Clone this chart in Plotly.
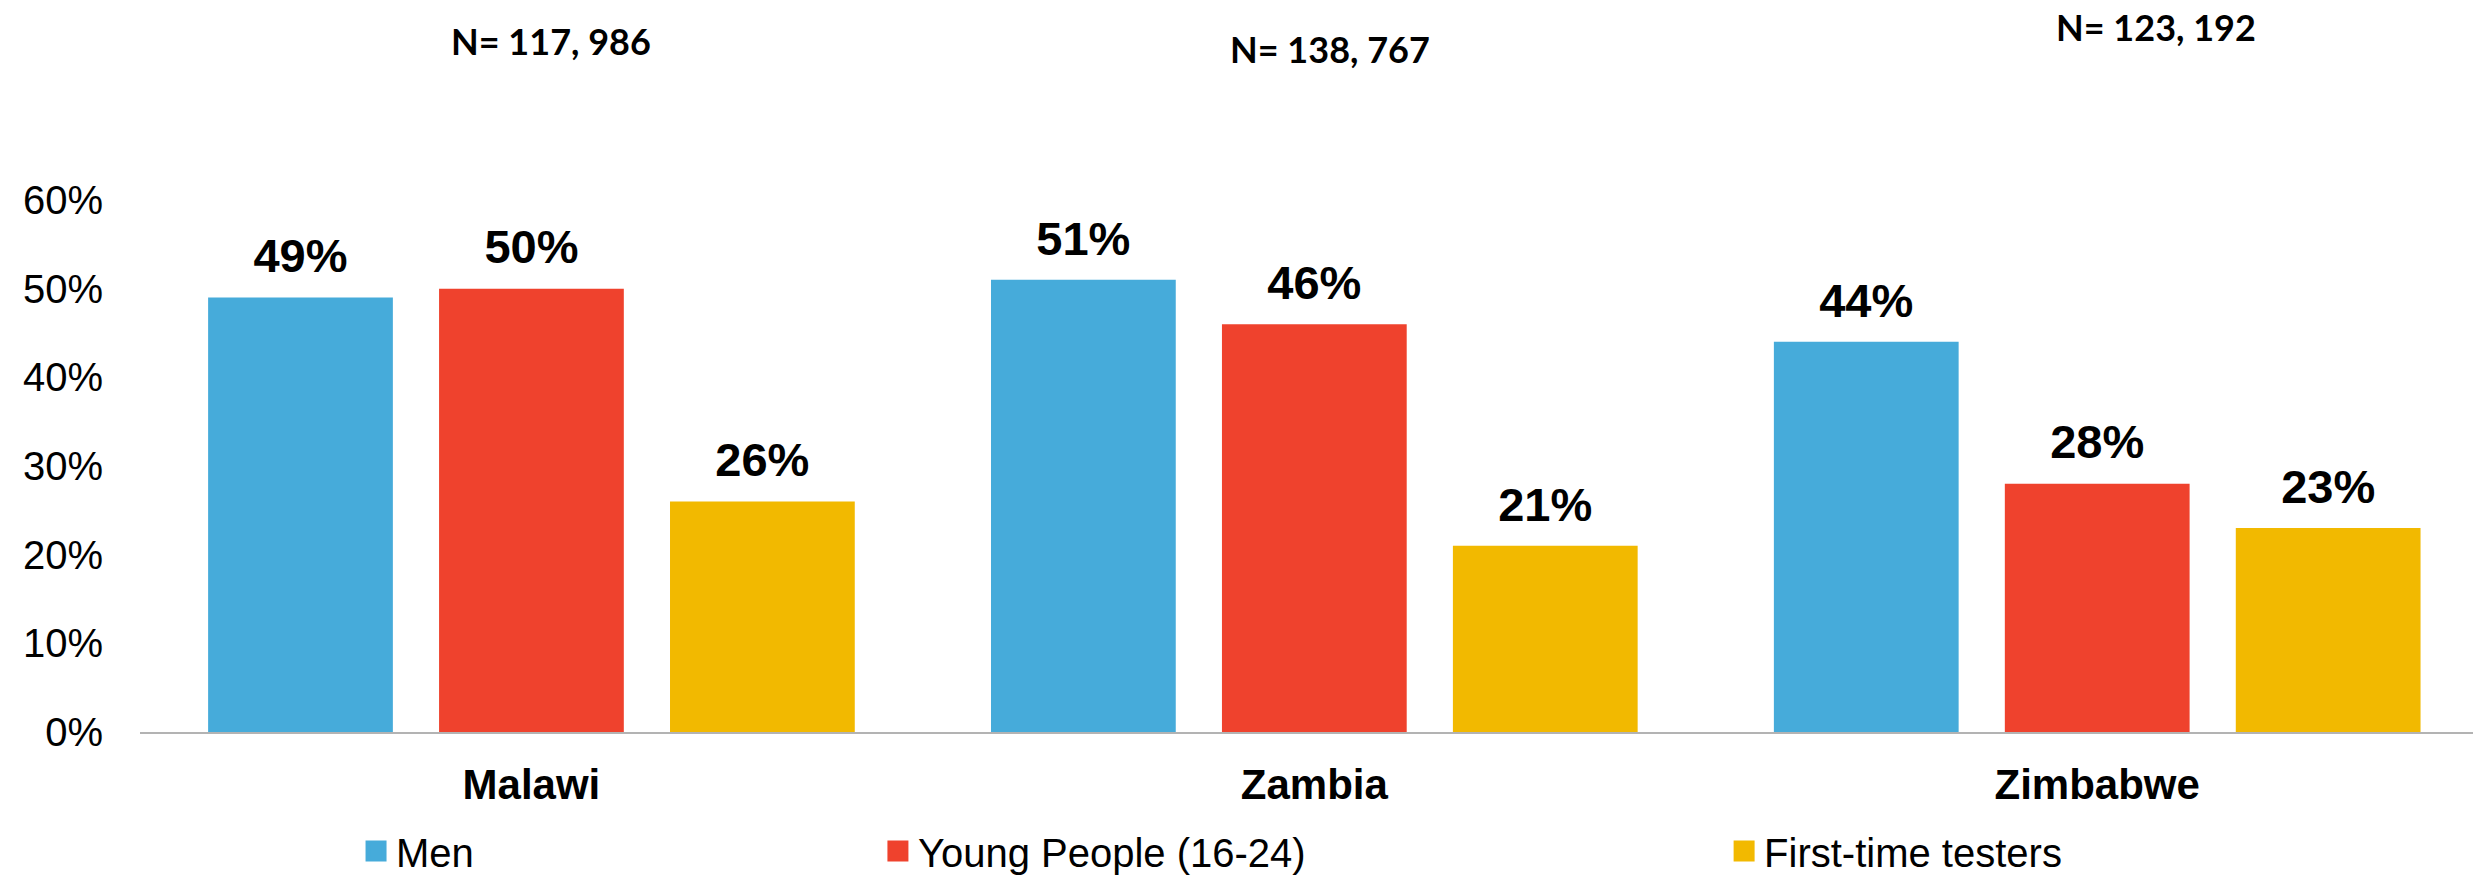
import plotly.graph_objects as go

# Data: share of clients by country and group (%)
countries = ["Malawi", "Zambia", "Zimbabwe"]
series_names = ["Men", "Young People (16-24)", "First-time testers"]
men = [49, 51, 44]
young_people = [50, 46, 28]
first_time = [26, 21, 23]
sample_sizes = ["N= 117, 986", "N= 138, 767", "N= 123, 192"]
y_ticks = [0, 10, 20, 30, 40, 50, 60]
y_tick_labels = [f"{v}%" for v in y_ticks]

colors = ["#46ABDA", "#EF422D", "#F2B900"]
series_values = [men, young_people, first_time]

W, H = 2473, 879
M_L, M_R, M_T, M_B = 140, 0, 200, 147
PLOT_W = W - M_L - M_R
PLOT_H = H - M_T - M_B

BASE_FONT = "Arial, 'Liberation Sans', sans-serif"

fig = go.Figure()

# Bars
for name, vals, col in zip(series_names, series_values, colors):
    fig.add_trace(go.Bar(
        x=countries, y=vals, name=name,
        marker=dict(color=col, line=dict(width=0)),
        showlegend=False, hoverinfo="x+y+name",
    ))

# Value labels, aligned with the grouped bars
for name, vals in zip(series_names, series_values):
    fig.add_trace(go.Scatter(
        x=countries, y=vals, name=name, mode="markers+text",
        orientation="v",
        text=[f"{v}%" for v in vals], textposition="top center",
        textfont=dict(family=BASE_FONT, size=47, color="black", weight="bold"),
        marker=dict(size=20, opacity=0),
        showlegend=False, hoverinfo="skip", cliponaxis=False,
    ))

# Legend entries, each in its own legend box
legend_keys = ["legend", "legend2", "legend3"]
for name, col, lk in zip(series_names, colors, legend_keys):
    fig.add_trace(go.Scatter(
        x=[None], y=[None], name=name, mode="markers",
        marker=dict(symbol="square", size=16, color=col,
                    line=dict(color=col, width=5)),
        xaxis="x2", legend=lk, showlegend=True, hoverinfo="skip",
    ))

legend_x = [0.0926, 0.3163, 0.679]
legend_style = dict(
    orientation="h", y=-0.2237, yanchor="middle", xanchor="left",
    font=dict(family=BASE_FONT, size=40, color="black"),
    bgcolor="rgba(0,0,0,0)", borderwidth=0,
)

# Sample-size notes above each country
n_pos = [(551, 41), (1330, 48.5), (2156, 26.7)]
annotations = []
for txt, (px, py) in zip(sample_sizes, n_pos):
    annotations.append(dict(
        text=txt, xref="paper", yref="paper",
        x=(px - M_L) / PLOT_W, y=(H - M_B - py) / PLOT_H,
        xanchor="center", yanchor="middle", showarrow=False,
        font=dict(family="Lato, 'Open Sans', sans-serif", size=36,
                  color="black", weight="bold"),
    ))

fig.update_layout(
    width=W, height=H,
    margin=dict(l=M_L, r=M_R, t=M_T, b=M_B, autoexpand=False),
    paper_bgcolor="white", plot_bgcolor="white",
    barmode="group", bargap=0.115, bargroupgap=0.2,
    scattermode="group", scattergap=0.115,
    font=dict(family=BASE_FONT, color="black"),
    xaxis=dict(
        type="category", categoryorder="array", categoryarray=countries,
        range=[-0.5, 2.48],
        showline=True, linecolor="#B3B3B3", linewidth=2,
        showgrid=False, zeroline=False, ticks="",
        tickfont=dict(family=BASE_FONT, size=42, color="black", weight="bold"),
        ticklabelstandoff=15,
    ),
    xaxis2=dict(overlaying="x", visible=False, range=[0, 1]),
    yaxis=dict(
        range=[0, 60], tickmode="array", tickvals=y_ticks, ticktext=y_tick_labels,
        showgrid=False, zeroline=False, showline=False, ticks="",
        tickfont=dict(family=BASE_FONT, size=40, color="black"),
        ticklabelstandoff=36,
    ),
    legend=dict(x=legend_x[0], **legend_style),
    legend2=dict(x=legend_x[1], **legend_style),
    legend3=dict(x=legend_x[2], **legend_style),
    annotations=annotations,
)

fig.write_html("out.html")
